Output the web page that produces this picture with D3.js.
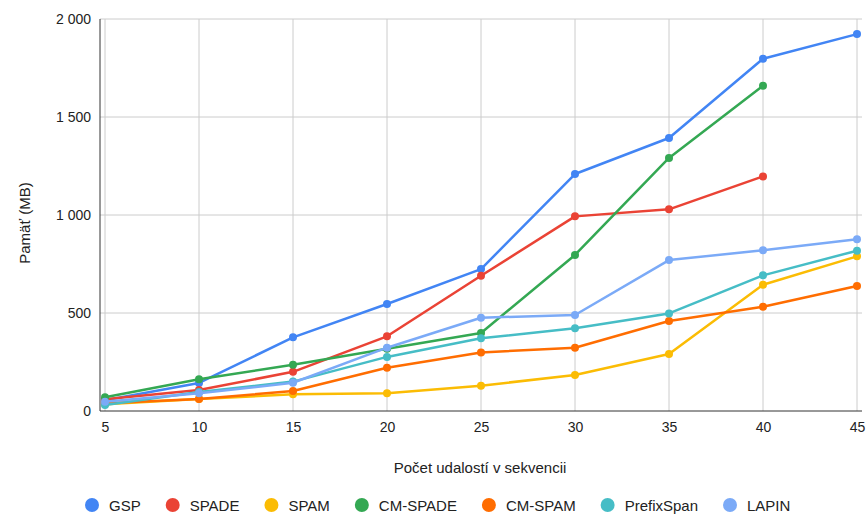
<!DOCTYPE html>
<html>
<head>
<meta charset="utf-8">
<script src="https://cdn.jsdelivr.net/npm/d3@7"></script>
<style>
  body { margin: 0; background: #fff; }
  text { font-family: "Liberation Sans", Arial, sans-serif; fill: #222; }
</style>
</head>
<body>
<div id="chart"></div>
<script>
const xValues = [5, 10, 15, 20, 25, 30, 35, 40, 45];
const seriesNames = ["GSP", "SPADE", "SPAM", "CM-SPADE", "CM-SPAM", "PrefixSpan", "LAPIN"];
const colors = ["#4285f4", "#ea4335", "#fbbc04", "#34a853", "#ff6d01", "#46bdc6", "#7baaf7"];

const gsp        = [55, 143, 376, 546, 724, 1209, 1393, 1797, 1923];
const spade      = [60, 107, 200, 381, 690, 993, 1029, 1197];
const spam       = [35, 61, 85, 90, 129, 184, 291, 644, 789];
const cmSpade    = [70, 162, 236, 318, 398, 796, 1291, 1660];
const cmSpam     = [40, 61, 102, 221, 299, 323, 459, 532, 638];
const prefixSpan = [31, 97, 150, 276, 371, 422, 498, 692, 818];
const lapin      = [47, 90, 144, 323, 476, 490, 770, 820, 876];

const yTicks = [0, 500, 1000, 1500, 2000];
const xTitle = "Počet udalostí v sekvencii";
const yTitle = "Pamäť (MB)";

const allSeries = [gsp, spade, spam, cmSpade, cmSpam, prefixSpan, lapin];

const width = 867, height = 515;
const plotLeft = 100, plotRight = 862, plotTop = 19, plotBottom = 411;

const svg = d3.select("#chart")
    .append("svg")
    .attr("width", width)
    .attr("height", height);

const xScale = d3.scaleLinear()
    .domain([5, 45])
    .range([105, 857]);

const yScale = d3.scaleLinear()
    .domain([0, 2000])
    .range([plotBottom, plotTop]);

// grid
svg.append("g")
    .selectAll("line.h")
    .data(yTicks.filter(d => d > 0))
    .enter().append("line")
    .attr("x1", plotLeft).attr("x2", plotRight)
    .attr("y1", d => yScale(d)).attr("y2", d => yScale(d))
    .style("stroke", "#cccccc");

svg.append("g")
    .selectAll("line.v")
    .data(xValues)
    .enter().append("line")
    .attr("x1", d => xScale(d)).attr("x2", d => xScale(d))
    .attr("y1", plotTop).attr("y2", plotBottom)
    .style("stroke", "#cccccc");

// axes
const yAxis = d3.axisLeft(yScale)
    .tickValues(yTicks)
    .tickSize(0)
    .tickPadding(9)
    .tickFormat(d => d3.format(",")(d).replace(",", " "));

const xAxis = d3.axisBottom(xScale)
    .tickValues(xValues)
    .tickSize(0)
    .tickPadding(11);

const gy = svg.append("g")
    .attr("transform", `translate(${plotLeft},0)`)
    .call(yAxis);
gy.select(".domain").remove();

const gx = svg.append("g")
    .attr("transform", `translate(0,${plotBottom})`)
    .call(xAxis);
gx.select(".domain").remove();

svg.selectAll(".tick text")
    .style("font-size", "14px")
    .style("font-family", '"Liberation Sans", Arial, sans-serif')
    .style("fill", "#222");

svg.append("line")
    .attr("x1", plotLeft).attr("x2", plotLeft)
    .attr("y1", plotTop).attr("y2", plotBottom)
    .style("stroke", "#333");
svg.append("line")
    .attr("x1", plotLeft).attr("x2", plotRight)
    .attr("y1", plotBottom).attr("y2", plotBottom)
    .style("stroke", "#333");

// titles
svg.append("text")
    .attr("x", 480)
    .attr("y", 473)
    .attr("text-anchor", "middle")
    .style("font-size", "15px")
    .text(xTitle);

svg.append("text")
    .attr("transform", `translate(30,${(plotTop + plotBottom) / 2 + 8}) rotate(-90)`)
    .attr("text-anchor", "middle")
    .style("font-size", "15px")
    .text(yTitle);

// series
const line = d3.line()
    .x((d, i) => xScale(xValues[i]))
    .y(d => yScale(d));

allSeries.forEach((vals, s) => {
    const g = svg.append("g");
    g.append("path")
        .datum(vals)
        .attr("d", line)
        .style("fill", "none")
        .style("stroke", colors[s])
        .style("stroke-width", 2.5)
        .style("stroke-linejoin", "round");
    g.selectAll("circle")
        .data(vals)
        .enter().append("circle")
        .attr("cx", (d, i) => xScale(xValues[i]))
        .attr("cy", d => yScale(d))
        .attr("r", 4)
        .style("fill", colors[s]);
});

// legend
const legend = svg.append("g");
let lx = 92;
seriesNames.forEach((name, i) => {
    const item = legend.append("g").attr("transform", `translate(${lx},505)`);
    item.append("circle")
        .attr("r", 7)
        .style("fill", colors[i]);
    const t = item.append("text")
        .attr("x", 17)
        .attr("y", 5.5)
        .style("font-size", "15px")
        .text(name);
    lx += 17 + t.node().getComputedTextLength() + 32;
});
</script>
</body>
</html>
